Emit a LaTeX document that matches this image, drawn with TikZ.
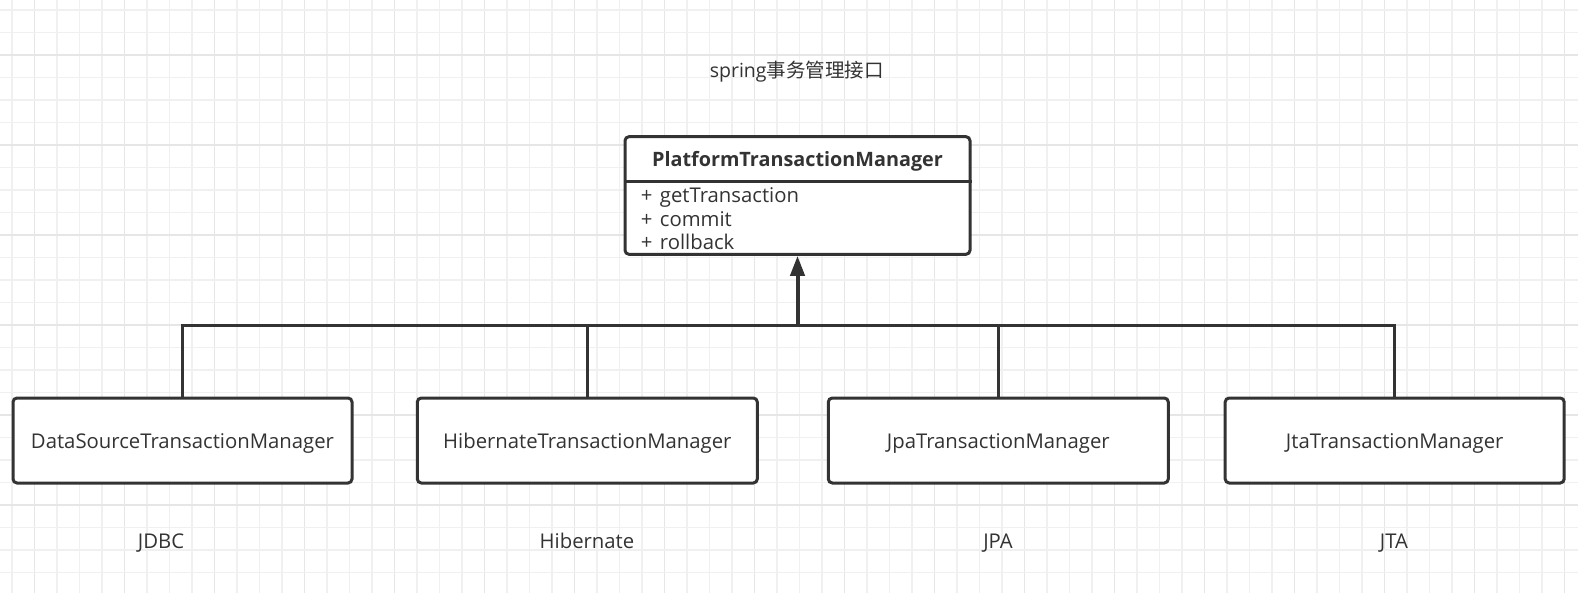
\documentclass[tikz,border=0pt]{standalone}
\usepackage{fontspec}
\setmainfont{Open Sans}
\newfontfamily\cjk{Noto Sans CJK SC}
\usetikzlibrary{arrows.meta}
\definecolor{ink}{HTML}{333333}
\definecolor{gridminor}{HTML}{F0F0F0}
\definecolor{gridmajor}{HTML}{E6E6E6}
\tikzset{
  classbox/.style={draw=ink, line width=3pt, rounded corners=4pt, fill=white, inner sep=0pt},
  bus/.style={draw=ink, line width=3pt},
  inherit/.style={draw=ink, line width=4pt, -{Triangle[length=20pt,width=14pt]}},
  txt/.style={text=ink, font=\fontsize{20.3}{23.8}\selectfont, inner sep=0pt},
}
\begin{document}
\begin{tikzpicture}[x=1pt,y=-1pt]
\path[use as bounding box, fill=white] (0,0) rectangle (1578,593);
% grid
\foreach \k in {0,...,69}{
  \pgfmathsetmacro{\gx}{12+22.5*\k}
  \pgfmathtruncatemacro{\m}{mod(\k,4)}
  \ifnum\m=1 \draw[gridmajor, line width=1.3pt] (\gx,0) -- (\gx,593);
  \else \draw[gridminor, line width=1.3pt] (\gx,0) -- (\gx,593); \fi
}
\foreach \k in {0,...,26}{
  \pgfmathsetmacro{\gy}{10+22.5*\k}
  \pgfmathtruncatemacro{\m}{mod(\k,4)}
  \ifnum\m=2 \draw[gridmajor, line width=1.3pt] (0,\gy) -- (1578,\gy);
  \else \draw[gridminor, line width=1.3pt] (0,\gy) -- (1578,\gy); \fi
}
% title
\node[txt, font=\fontsize{19.5}{24}\selectfont] (title) at (796.7,71.7) {spring{\cjk 事务管理接口}};
% top class
\node[classbox, minimum width=345pt, minimum height=117.6pt] (ptm) at (797.5,195.5) {};
\draw[bus] (ptm.west |- 0,181.7) -- (ptm.east |- 0,181.7);
\node[txt, anchor=base, font=\fontsize{19.8}{24}\selectfont\bfseries] (ptmname) at (797.5,166.5) {PlatformTransactionManager};
\node[txt, anchor=north west, align=left] (ptmops) at (640.6,187.2) {+\hspace{7.5pt}getTransaction\\+\hspace{7.5pt}commit\\+\hspace{7.5pt}rollback};
% subclasses
\node[classbox, minimum width=339pt, minimum height=85pt] (ds) at (182.5,440.5) {};
\node[txt, anchor=base] at (ds.center |- 0,448.3) {DataSourceTransactionManager};
\node[classbox, minimum width=340pt, minimum height=85pt] (hib) at (587.3,440.5) {};
\node[txt, anchor=base] at (hib.center |- 0,448.3) {HibernateTransactionManager};
\node[classbox, minimum width=340pt, minimum height=85pt] (jpa) at (998.3,440.5) {};
\node[txt, anchor=base] at (jpa.center |- 0,448.3) {JpaTransactionManager};
\node[classbox, minimum width=339pt, minimum height=85pt] (jta) at (1394.7,440.5) {};
\node[txt, anchor=base] at (jta.center |- 0,448.3) {JtaTransactionManager};
% labels
\node[txt, anchor=base] (l1) at (161,548.3) {JDBC};
\node[txt, anchor=base] (l2) at (587,548.3) {Hibernate};
\node[txt, anchor=base] (l3) at (998,548.3) {JPA};
\node[txt, anchor=base] (l4) at (1394,548.3) {JTA};
% connectors
\coordinate (j) at (ptm.south |- 0,325.5);
\draw[bus] (ds.north) |- (j);
\draw[bus] (hib.north) |- (j);
\draw[bus] (jpa.north) |- (j);
\draw[bus] (jta.north) |- (j);
\draw[inherit] (j) -- (ptm.south);
\end{tikzpicture}
\end{document}
